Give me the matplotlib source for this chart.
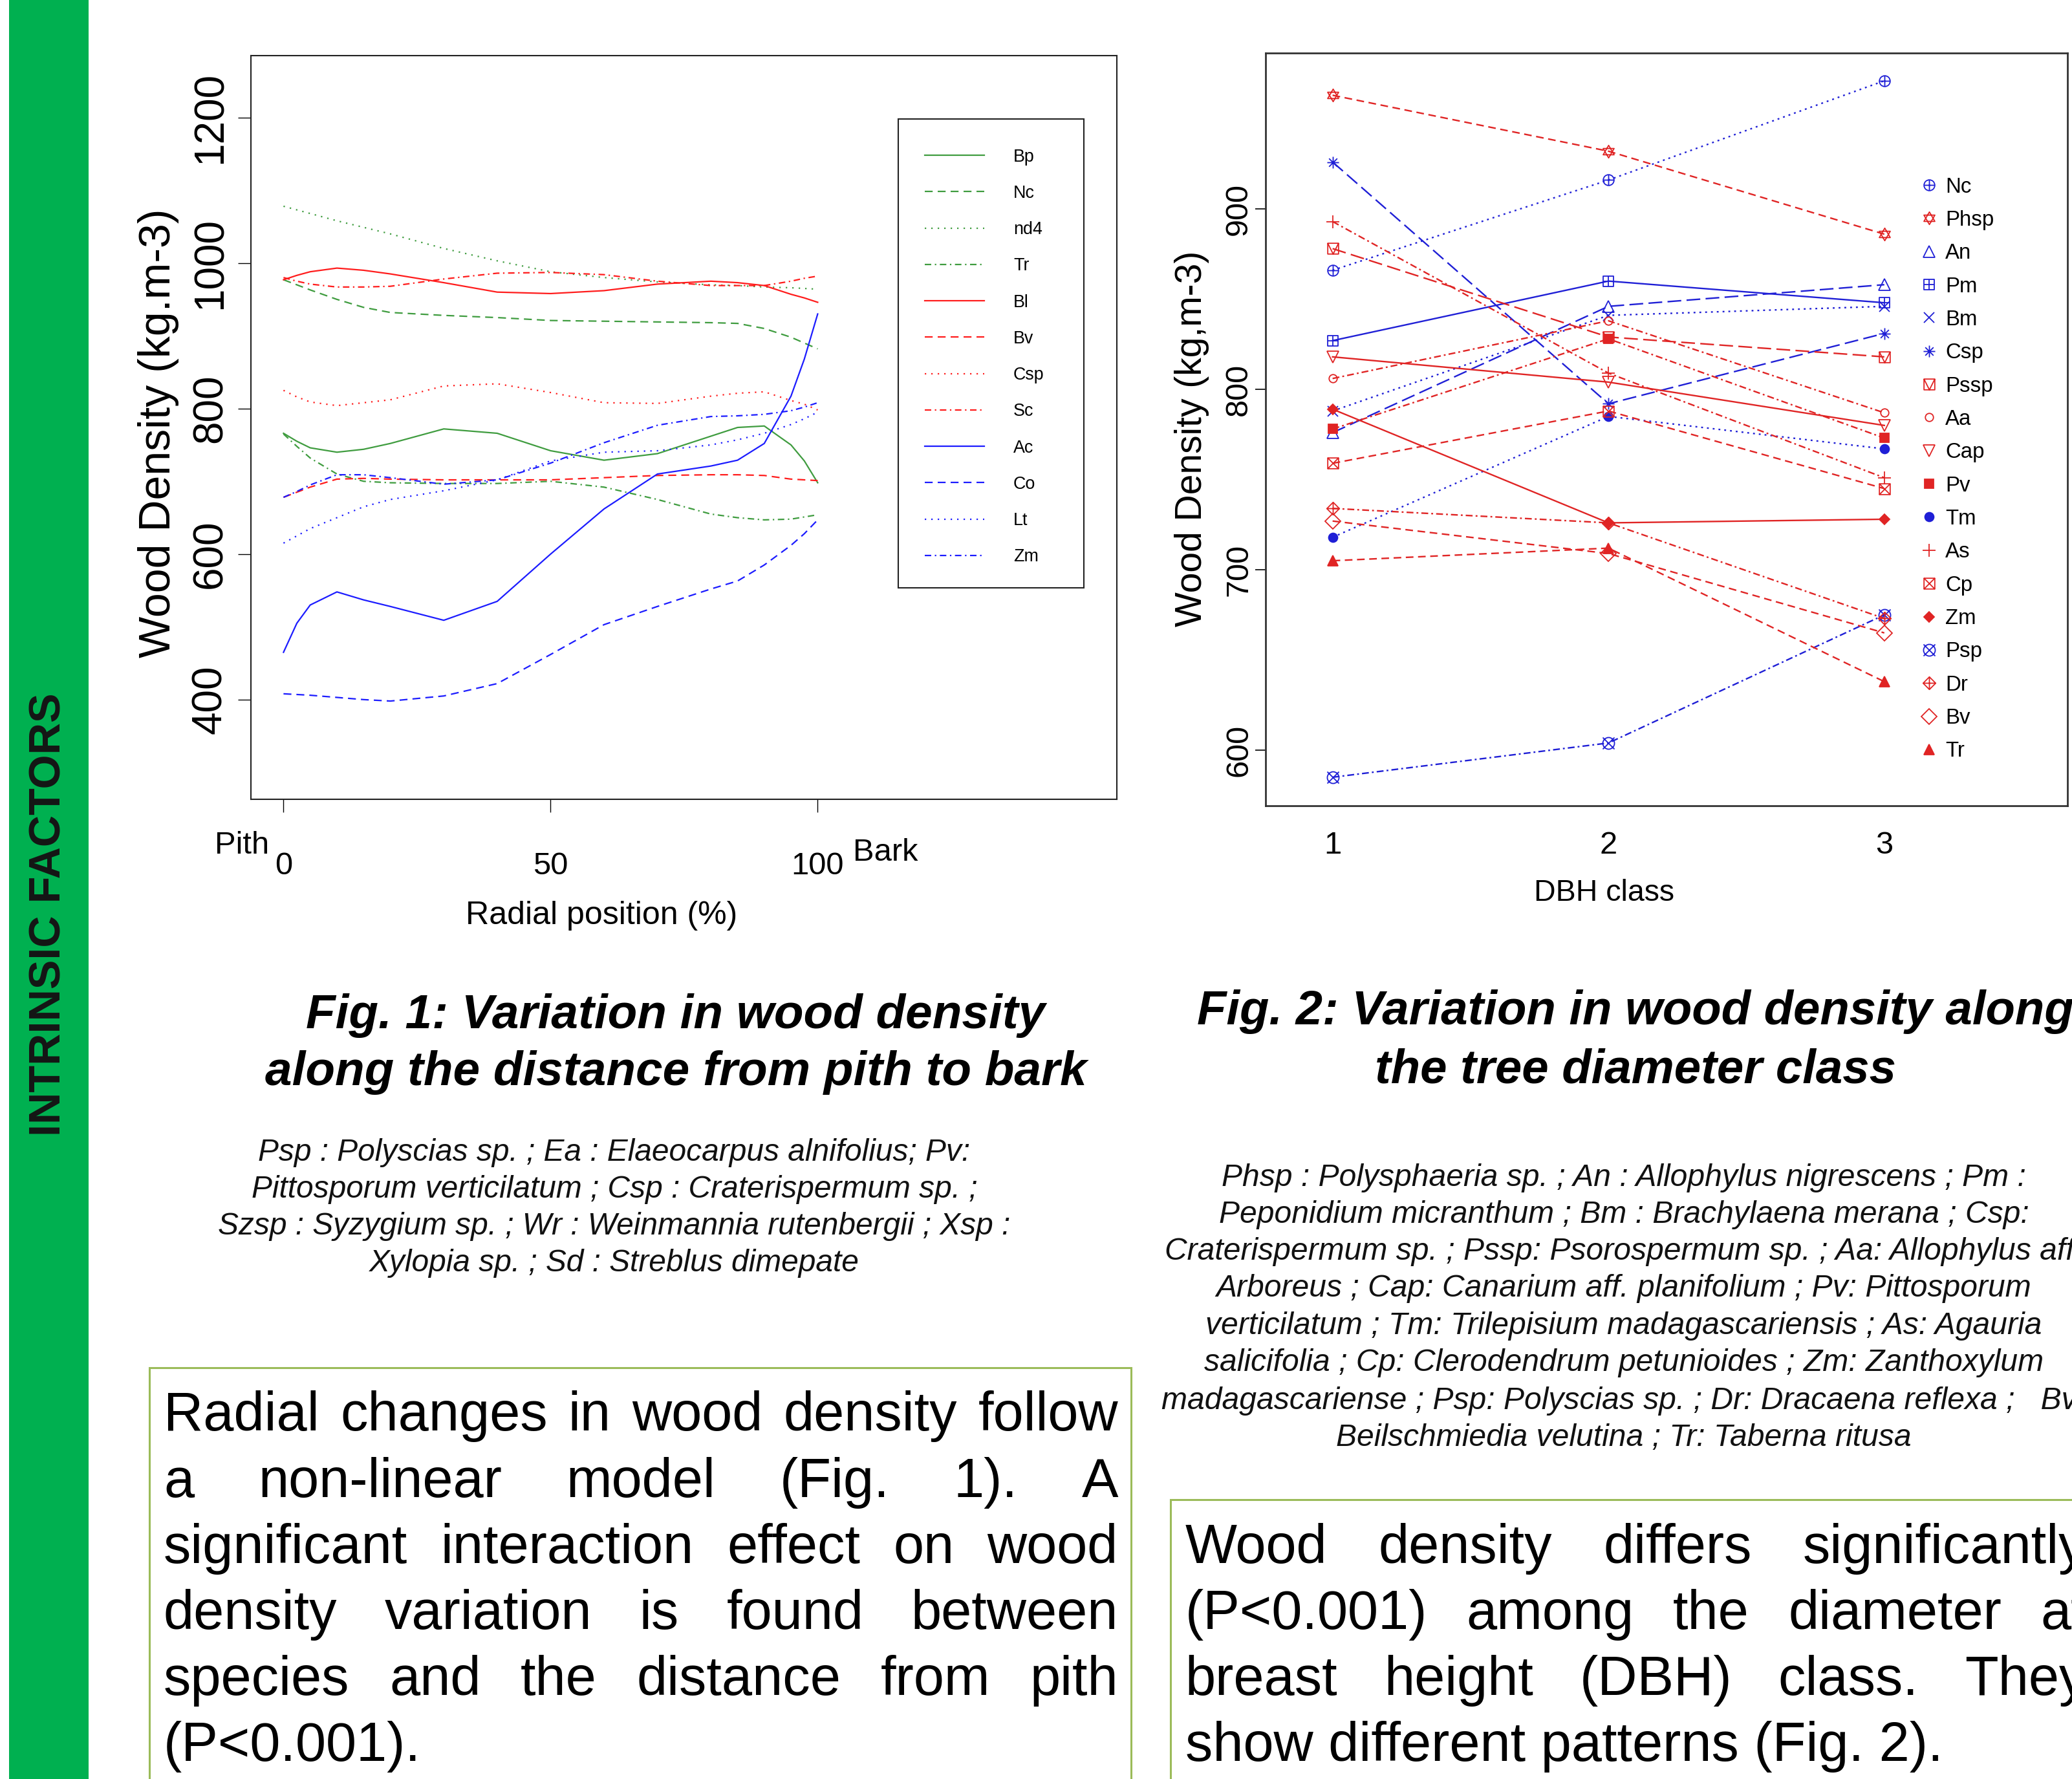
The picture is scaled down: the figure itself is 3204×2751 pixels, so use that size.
import matplotlib
matplotlib.use("Agg")
import matplotlib.pyplot as plt
from matplotlib import font_manager
from matplotlib.lines import Line2D
from matplotlib.patches import Rectangle
from matplotlib.path import Path

W, H = 3204, 2751

# ---------------- Fig. 1 : wood density from pith (0) to bark (100) ----------------
radial_pos = [0, 2.5, 5, 10, 15, 20, 30, 40, 50, 60, 70, 80, 85, 90, 95, 97.5, 100]
bp = [766, 755, 746, 740, 744, 752, 772, 766, 742, 729, 738, 762, 774, 776, 750, 728, 698]
nc = [977, 970, 963, 950, 939, 932, 928, 925, 921, 920, 919, 918, 917, 910, 898, 890, 882]
nd4 = [1078, 1073, 1068, 1058, 1049, 1040, 1020, 1003, 988, 980, 974, 970, 969, 967, 966, 965, 964]
tr = [765, 748, 732, 710, 700, 698, 697, 697, 700, 692, 675, 655, 650, 647, 648, 651, 654]
bl = [977, 983, 988, 993, 990, 985, 973, 960, 958, 962, 971, 975, 973, 969, 957, 952, 946]
bv = [678, 685, 692, 703, 704, 703, 702, 702, 702, 705, 708, 709, 709, 708, 703, 702, 701]
csp = [825, 816, 809, 804, 808, 812, 831, 834, 822, 808, 807, 817, 821, 823, 811, 806, 798]
sc = [980, 975, 971, 967, 967, 968, 978, 986, 987, 984, 975, 969, 969, 969, 975, 979, 982]
ac = [465, 505, 530, 548, 537, 528, 509, 535, 600, 662, 710, 721, 729, 752, 817, 868, 930]
co = [408, 407, 406, 403, 400, 398, 405, 422, 462, 503, 528, 552, 563, 585, 612, 628, 647]
lt = [615, 625, 635, 650, 665, 675, 687, 702, 728, 740, 742, 750, 757, 766, 778, 786, 795]
zm = [678, 686, 695, 709, 709, 705, 696, 702, 725, 753, 777, 789, 790, 792, 797, 802, 808]

fig1_labels = ["Bp", "Nc", "nd4", "Tr", "Bl", "Bv", "Csp", "Sc", "Ac", "Co", "Lt", "Zm"]
fig1_series = [bp, nc, nd4, tr, bl, bv, csp, sc, ac, co, lt, zm]
fig1_colors = ["#3f9c3f"] * 4 + ["#ff1c1c"] * 4 + ["#1c1cff"] * 4
fig1_styles = ["solid", "dashed", "dotted", "dotdash"] * 3

# ---------------- Fig. 2 : wood density by DBH class ----------------
dbh_class = [1, 2, 3]
wd_nc = [866, 916, 971]
wd_phsp = [963, 932, 886]
wd_an = [776, 846, 858]
wd_pm = [827, 860, 848]
wd_bm = [788, 841, 846]
wd_csp = [926, 792, 831]
wd_pssp = [878, 829, 818]
wd_aa = [806, 838, 787]
wd_cap = [818, 804, 780]
wd_pv = [778, 828, 773]
wd_tm = [718, 785, 767]
wd_as = [893, 809, 751]
wd_cp = [759, 788, 745]
wd_zm = [789, 726, 728]
wd_psp = [585, 604, 675]
wd_dr = [734, 726, 673]
wd_bv = [727, 709, 665]
wd_tr = [705, 712, 638]

fig2_labels = ["Nc", "Phsp", "An", "Pm", "Bm", "Csp", "Pssp", "Aa", "Cap",
               "Pv", "Tm", "As", "Cp", "Zm", "Psp", "Dr", "Bv", "Tr"]
fig2_series = [wd_nc, wd_phsp, wd_an, wd_pm, wd_bm, wd_csp, wd_pssp, wd_aa, wd_cap,
               wd_pv, wd_tm, wd_as, wd_cp, wd_zm, wd_psp, wd_dr, wd_bv, wd_tr]
fig2_colors = ["b", "r", "b", "b", "b", "b", "r", "r", "r",
               "r", "b", "r", "r", "r", "b", "r", "r", "r"]
fig2_styles = ["dotted", "dashed", "longdash", "solid", "dotted", "longdash", "longdash", "dotdash", "solid",
               "dotdash", "dotted", "dotdash", "dashed", "solid", "dotdash", "dotdash", "dashed", "dashed"]
fig2_pch = [10, 11, 2, 12, 4, 8, 14, 1, 6, 15, 16, 3, 7, 18, 13, 9, 5, 17]

# ---------------- texts ----------------
cap1 = ["Fig. 1: Variation in wood density", "along the distance from pith to bark"]
cap2 = ["Fig. 2: Variation in wood density along", "the tree diameter class"]
species1 = ["Psp : Polyscias sp. ; Ea : Elaeocarpus alnifolius; Pv:",
            "Pittosporum verticilatum ; Csp : Craterispermum sp. ;",
            "Szsp : Syzygium sp. ; Wr : Weinmannia rutenbergii ; Xsp :",
            "Xylopia sp. ; Sd : Streblus dimepate"]
species2 = ["Phsp : Polysphaeria sp. ; An : Allophylus nigrescens ; Pm :",
            "Peponidium micranthum ; Bm : Brachylaena merana ; Csp:",
            "Craterispermum sp. ; Pssp: Psorospermum sp. ; Aa: Allophylus aff.",
            "Arboreus ; Cap: Canarium aff. planifolium ; Pv: Pittosporum",
            "verticilatum ; Tm: Trilepisium madagascariensis ; As: Agauria",
            "salicifolia ; Cp: Clerodendrum petunioides ; Zm: Zanthoxylum",
            "madagascariense ; Psp: Polyscias sp. ; Dr: Dracaena reflexa ;   Bv:",
            "Beilschmiedia velutina ; Tr: Taberna ritusa"]
box1 = ["Radial changes in wood density follow",
        "a non-linear model (Fig. 1). A",
        "significant interaction effect on wood",
        "density variation is found between",
        "species and the distance from pith",
        "(P<0.001)."]
box2 = ["Wood density differs significantly",
        "(P<0.001) among the diameter at",
        "breast height (DBH) class. They",
        "show different patterns (Fig. 2)."]

installed = {f.name for f in font_manager.fontManager.ttflist}
if "Liberation Sans Narrow" in installed:
    NARROW, SQ = "Liberation Sans Narrow", 1.0
else:
    NARROW, SQ = "Liberation Sans", 0.88

plt.rcParams["font.family"] = ["Liberation Sans", "DejaVu Sans"]

DASH1 = {"solid": "-", "dashed": (0, (5.5, 3.5)), "dotted": (0, (1, 3.5)),
         "dotdash": (0, (4.5, 2.5, 1, 2.5))}
DASH2 = {"solid": "-", "dashed": (0, (5, 3)), "longdash": (0, (9, 3.5)),
         "dotted": (0, (1.2, 2.6)), "dotdash": (0, (4.5, 2, 1.2, 2))}
COL2 = {"b": "#1f1fd6", "r": "#e02424"}

# R-like plotting symbols
M, L, C = Path.MOVETO, Path.LINETO, Path.CLOSEPOLY
sq = Path([(-1, -1), (1, -1), (1, 1), (-1, 1), (-1, -1)], [M, L, L, L, C])
plus = Path([(-1, 0), (1, 0), (0, -1), (0, 1)], [M, L, M, L])
cross = Path([(-1, -1), (1, 1), (-1, 1), (1, -1)], [M, L, M, L])
small_cross = Path([(-.7, -.7), (.7, .7), (-.7, .7), (.7, -.7)], [M, L, M, L])
circ = Path.unit_circle()
tri_up = Path([(0, 1), (-.87, -.5), (.87, -.5), (0, 1)], [M, L, L, C])
tri_dn = Path([(0, -1), (-.87, .5), (.87, .5), (0, -1)], [M, L, L, C])
diam = Path([(0, 1), (1, 0), (0, -1), (-1, 0), (0, 1)], [M, L, L, L, C])
vee = Path([(-1, 1), (0, -1), (1, 1)], [M, L, L])
cpd = Path.make_compound_path
PCH = {
    1: ("o", 9, False), 2: ("^", 13, False), 3: ("+", 14, False), 4: ("x", 12, False),
    5: ("D", 12, False), 6: ("v", 13, False), 7: (cpd(sq, cross), 12, False),
    8: (cpd(plus, small_cross), 13, False), 9: (cpd(diam, plus), 14, False),
    10: (cpd(circ, plus), 12, False), 11: (cpd(tri_up, tri_dn), 14, False),
    12: (cpd(sq, plus), 12, False), 13: (cpd(circ, cross), 13, False),
    14: (cpd(sq, vee), 12, False), 15: ("s", 10, True), 16: ("o", 10, True),
    17: ("^", 12, True), 18: ("D", 8, True),
}


def fxy(x, y):
    return x / W, 1 - y / H


fig = plt.figure(figsize=(W / 100, H / 100), dpi=100)
renderer = fig.canvas.get_renderer()


def fit(t, px):
    bb = t.get_window_extent(renderer)
    size = bb.height if abs(t.get_rotation() - 90) < 1 else bb.width
    t.set_fontsize(t.get_fontsize() * px / size)
    return t.get_fontsize()


# left green band
fig.add_artist(Rectangle(fxy(14, H), 123 / W, 1, transform=fig.transFigure,
                         color="#00b050", lw=0, zorder=0))
t = fig.text(*fxy(76, 1414), "INTRINSIC FACTORS", rotation=90, ha="center", va="center",
             fontsize=48, fontweight="bold", color="#151515")
fit(t, 685)

# ---------------- Fig. 1 axes ----------------
ax1 = fig.add_axes([388 / W, 1 - 1236 / H, (1727 - 388) / W, (1236 - 86) / H])
for vals, lab, c, s in zip(fig1_series, fig1_labels, fig1_colors, fig1_styles):
    ax1.plot(radial_pos, vals, color=c, ls=DASH1[s], lw=1.6, label=lab)
ax1.set_xlim(-6.1, 156)
ax1.set_ylim(263, 1285)
ax1.set_xticks([0, 50, 100], labels=["0", "50", "100"], fontfamily=NARROW, fontsize=40 * SQ)
ax1.set_yticks([400, 600, 800, 1000, 1200], labels=["400", "600", "800", "1000", "1200"],
               rotation=90, va="center", fontsize=46)
ax1.tick_params(axis="x", length=14.4, width=1.0, pad=44)
ax1.tick_params(axis="y", length=14.4, width=1.0, pad=9)
for sp in ax1.spines.values():
    sp.set_linewidth(1.5)
    sp.set_color("#222222")
ax1.set_ylabel("Wood Density (kg.m-3)", fontsize=49, va="center")
ax1.yaxis.set_label_coords((245 - 388) / 1339, (1236 - 670) / 1150)
ax1.set_xlabel("Radial position (%)", fontsize=41 * SQ, fontfamily=NARROW, va="center")
ax1.xaxis.set_label_coords((930 - 388) / 1339, (1236 - 1416) / 1150)
fig.text(*fxy(374, 1308), "Pith", ha="center", va="center", fontfamily=NARROW, fontsize=40 * SQ)
fig.text(*fxy(1369, 1318), "Bark", ha="center", va="center", fontfamily=NARROW, fontsize=40 * SQ)

fs1 = 22 * SQ * 100 / 72
ax1.legend(loc="upper left", bbox_to_anchor=fxy(1430, 243 - 0.5 * fs1), bbox_transform=fig.transFigure,
           frameon=False, borderpad=0, borderaxespad=0, handlelength=92 / fs1,
           handletextpad=45 / fs1, labelspacing=(55.8 - 0.95 * fs1) / fs1,
           prop={"family": NARROW, "size": 22 * SQ})
fig.add_artist(Rectangle(fxy(1389, 909), 287 / W, 725 / H, transform=fig.transFigure,
                         fill=False, lw=1.5, ec="#222222"))

# ---------------- Fig. 2 axes ----------------
ax2 = fig.add_axes([1957 / W, 1 - 1246 / H, (3197 - 1957) / W, (1246 - 82) / H])
handles = []
for vals, lab, c, s, p in zip(fig2_series, fig2_labels, fig2_colors, fig2_styles, fig2_pch):
    mk, ms, filled = PCH[p]
    col = COL2[c]
    ax2.plot(dbh_class, vals, color=col, ls=DASH2[s], lw=1.7, marker=mk, ms=ms,
             mfc=col if filled else "none", mec=col, mew=1.3)
    handles.append(Line2D([], [], ls="none", marker=mk, ms=ms, mfc=col if filled else "none",
                          mec=col, mew=1.3, label=lab))
ax2.set_xlim(0.757, 3.664)
ax2.set_ylim(569.2, 986.4)
ax2.set_xticks([1, 2, 3], labels=["1", "2", "3"], fontfamily=NARROW, fontsize=40 * SQ)
ax2.set_yticks([600, 700, 800, 900], labels=["600", "700", "800", "900"],
               rotation=90, va="center", fontsize=35)
ax2.tick_params(axis="x", length=0, pad=28)
ax2.tick_params(axis="y", length=11.5, width=1.2, pad=2)
for sp in ax2.spines.values():
    sp.set_linewidth(2.0)
    sp.set_color("#333333")
ax2.set_ylabel("Wood Density (kg,m-3)", fontsize=41, va="center")
ax2.yaxis.set_label_coords((1843 - 1957) / 1240, (1246 - 678) / 1164)
ax2.set_xlabel("DBH class", fontsize=38 * SQ, fontfamily=NARROW, va="center")
ax2.xaxis.set_label_coords((2481 - 1957) / 1240, (1246 - 1381) / 1164)

fs2 = 27 * SQ * 100 / 72
ax2.legend(handles=handles, loc="upper left", bbox_to_anchor=fxy(2983 - 0.4 * fs2, 290 - 0.5 * fs2),
           bbox_transform=fig.transFigure, frameon=False, borderpad=0, borderaxespad=0,
           handlelength=0.8, handletextpad=(3008 - 2983 - 0.4 * fs2) / fs2,
           labelspacing=(51.7 - 0.95 * fs2) / fs2, numpoints=1,
           prop={"family": NARROW, "size": 27 * SQ})

# ---------------- captions and species lists ----------------
t = fig.text(*fxy(1045, 1678), cap1[1], ha="center", va="baseline", fontsize=54,
             fontweight="bold", fontstyle="italic")
s = fit(t, 1273)
fig.text(*fxy(1045, 1590), cap1[0], ha="center", va="baseline", fontsize=s,
         fontweight="bold", fontstyle="italic")
t = fig.text(*fxy(2529, 1674), cap2[1], ha="center", va="baseline", fontsize=54,
             fontweight="bold", fontstyle="italic")
s = fit(t, 807)
fig.text(*fxy(2529, 1584), cap2[0], ha="center", va="baseline", fontsize=s,
         fontweight="bold", fontstyle="italic")

t = fig.text(*fxy(950, 1909), species1[2], ha="center", va="baseline", fontsize=30,
             fontstyle="italic", color="#111111")
s = fit(t, 1226)
for line, yb in zip([species1[0], species1[1], species1[3]], [1795, 1852, 1966]):
    fig.text(*fxy(950, yb), line, ha="center", va="baseline", fontsize=s,
             fontstyle="italic", color="#111111")

t = fig.text(*fxy(2511, 2236), species2[7], ha="center", va="baseline", fontsize=30,
             fontstyle="italic", color="#111111")
s = fit(t, 887)
for line, yb in zip(species2[:7], [1834, 1891, 1948, 2005, 2063, 2120, 2179]):
    fig.text(*fxy(2511, yb), line, ha="center", va="baseline", fontsize=s,
             fontstyle="italic", color="#111111")


# ---------------- justified text boxes ----------------
def justified(lines, x0, x1, baselines, size):
    for i, (line, yb) in enumerate(zip(lines, baselines)):
        if i == len(lines) - 1:
            fig.text(*fxy(x0, yb), line, fontsize=size, va="baseline")
            continue
        words = line.split()
        arts = [fig.text(0, 1 - yb / H, w, fontsize=size, va="baseline") for w in words]
        widths = [a.get_window_extent(renderer).width for a in arts]
        gap = (x1 - x0 - sum(widths)) / (len(words) - 1)
        x = x0
        for a, w in zip(arts, widths):
            a.set_x(x / W)
            x += w + gap


fig.add_artist(Rectangle(fxy(231, 2800), (1749 - 231) / W, (2800 - 2115) / H,
                         transform=fig.transFigure, fill=False, lw=2.2, ec="#9bbb59"))
fig.add_artist(Rectangle(fxy(1810, 2800), (3300 - 1810) / W, (2800 - 2319) / H,
                         transform=fig.transFigure, fill=False, lw=2.2, ec="#9bbb59"))
justified(box1, 253, 1729, [2212, 2315, 2417, 2519, 2621, 2723], 61)
justified(box2, 1833, 3226, [2417, 2519, 2621, 2723], 61)

fig.savefig("out.png", dpi=100)
